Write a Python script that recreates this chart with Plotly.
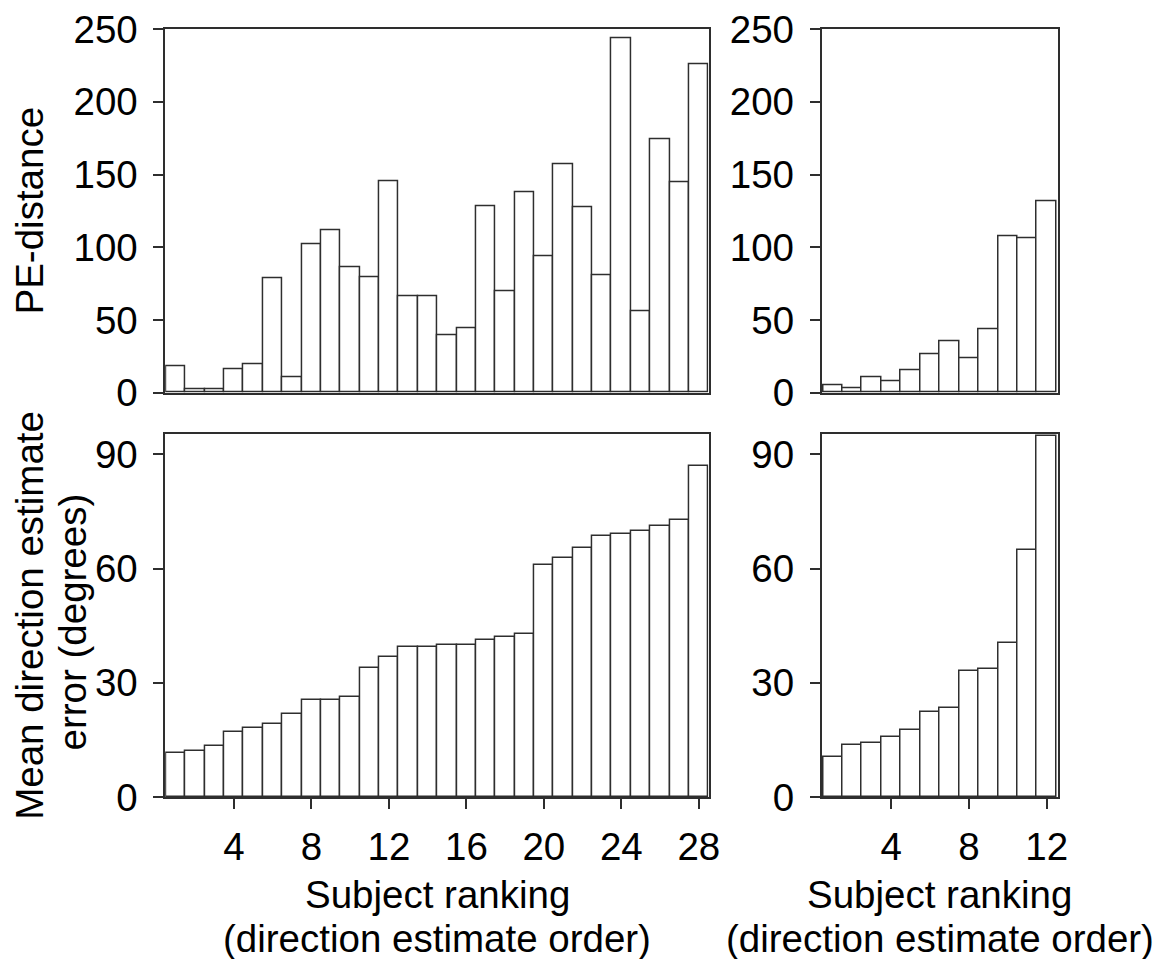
import plotly.graph_objects as go

# ---- data ----
rank_left = list(range(1, 29))
rank_right = list(range(1, 13))

pe_left = [18.2, 2.3, 2.3, 16.1, 19.3, 78.8, 10.8, 102, 111.7, 86.2, 79.7, 145.5, 66.2, 66.2,
           39.3, 44.6, 128.2, 70.1, 138.1, 93.8, 157.2, 127.5, 80.9, 244, 56.3, 174.2, 144.5, 226.1]
err_left = [11.7, 12.2, 13.4, 17.0, 18.2, 19.1, 21.9, 25.4, 25.4, 26.3, 33.9, 36.7, 39.5, 39.5,
            39.9, 39.9, 41.2, 42.0, 42.8, 60.9, 62.7, 65.5, 68.6, 69.1, 69.8, 71.1, 72.8, 86.8]
pe_right = [5.3, 3.2, 10.8, 7.6, 15.2, 26.7, 35.4, 23.7, 43.7, 107.3, 106.4, 131.9]
err_right = [10.5, 13.8, 14.2, 15.7, 17.7, 22.3, 23.5, 33.1, 33.7, 40.4, 65.0, 94.8]

pe_ticks = [0, 50, 100, 150, 200, 250]
err_ticks = [0, 30, 60, 90]
x_ticks_left = [4, 8, 12, 16, 20, 24, 28]
x_ticks_right = [4, 8, 12]

LINE = "#2e2e2e"
FONT = "Liberation Sans, Arial, sans-serif"
FS = 38.5
W, H = 1158, 959

fig = go.Figure()

def bars(x, y, xa, ya):
    fig.add_trace(go.Bar(
        x=x, y=y, xaxis=xa, yaxis=ya, width=1.0,
        marker=dict(color="white", line=dict(color=LINE, width=1.5)),
        showlegend=False, hoverinfo="x+y"))

bars(rank_left, pe_left, "x", "y")
bars(rank_right, pe_right, "x2", "y2")
bars(rank_left, err_left, "x3", "y3")
bars(rank_right, err_right, "x4", "y4")

def px_x(a, b):
    return [a / W, b / W]

def px_y(top, bottom):
    return [1 - bottom / H, 1 - top / H]

dom_xl = px_x(165.2, 708.5)
dom_xr = px_x(821.5, 1058.3)
dom_yt = px_y(29.3, 392.7)
dom_yb = px_y(434.0, 797.3)

base_axis = dict(showline=True, linecolor=LINE, linewidth=1.5, mirror=True,
                 showgrid=False, zeroline=False, automargin=False,
                 tickfont=dict(family=FONT, size=FS, color="black"),
                 ticks="outside", ticklen=10, tickwidth=1.5, tickcolor=LINE)

def xaxis(domain, rng, tickvals, anchor, show):
    d = dict(base_axis)
    d.update(domain=domain, range=rng, anchor=anchor)
    if show:
        d.update(tickmode="array", tickvals=tickvals, ticktext=[str(v) for v in tickvals],
                 ticklabelstandoff=5)
    else:
        d.update(ticks="", showticklabels=False)
    return d

def yaxis(domain, rng, tickvals, anchor):
    d = dict(base_axis)
    d.update(domain=domain, range=rng, anchor=anchor, tickmode="array",
             tickvals=tickvals, ticktext=[str(v) for v in tickvals], ticklabelstandoff=8)
    return d

fig.update_layout(
    template="none",
    width=W, height=H, margin=dict(l=0, r=0, t=0, b=0, pad=0), autosize=False,
    paper_bgcolor="white", plot_bgcolor="white", bargap=0,
    font=dict(family=FONT, size=FS, color="black"),
    xaxis=xaxis(dom_xl, [0.45, 28.5], x_ticks_left, "y", False),
    yaxis=yaxis(dom_yt, [0, 250], pe_ticks, "x"),
    xaxis2=xaxis(dom_xr, [0.42, 12.6], x_ticks_right, "y2", False),
    yaxis2=yaxis(dom_yt, [0, 250], pe_ticks, "x2"),
    xaxis3=xaxis(dom_xl, [0.45, 28.5], x_ticks_left, "y3", True),
    yaxis3=yaxis(dom_yb, [0, 95.3], err_ticks, "x3"),
    xaxis4=xaxis(dom_xr, [0.42, 12.6], x_ticks_right, "y4", True),
    yaxis4=yaxis(dom_yb, [0, 95.3], err_ticks, "x4"),
)

def ann(text, xpx, ypx, angle=0):
    fig.add_annotation(text=text, xref="paper", yref="paper", x=xpx / W, y=1 - ypx / H,
                       xanchor="center", yanchor="middle", showarrow=False, textangle=angle,
                       font=dict(family=FONT, size=FS, color="black"))

ann("PE-distance", 28.5, 211, -90)
ann("Mean direction estimate", 28.8, 615, -90)
ann("error (degrees)", 71.5, 622, -90)
for cx in (437.0, 939.8):
    ann("Subject ranking", cx, 894)
    ann("(direction estimate order)", cx, 938.3)

fig.write_html("out.html", config={"displayModeBar": False},
               post_script="document.body.style.margin='0';document.body.style.overflow='hidden';")
